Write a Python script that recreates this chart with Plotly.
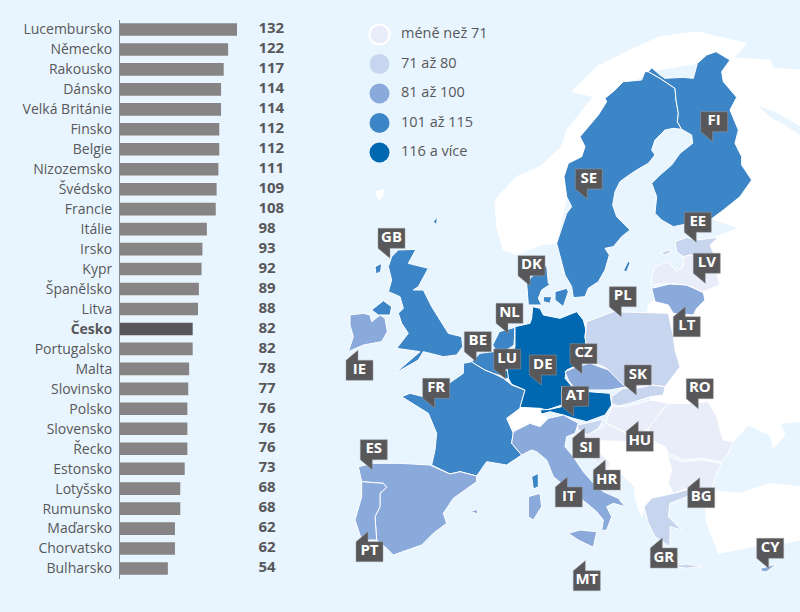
import plotly.graph_objects as go

countries = ["Lucembursko","Německo","Rakousko","Dánsko","Velká Británie","Finsko","Belgie","Nizozemsko","Švédsko","Francie","Itálie","Irsko","Kypr","Španělsko","Litva","Česko","Portugalsko","Malta","Slovinsko","Polsko","Slovensko","Řecko","Estonsko","Lotyšsko","Rumunsko","Maďarsko","Chorvatsko","Bulharsko"]
values = [132,122,117,114,114,112,112,111,109,108,98,93,92,89,88,82,82,78,77,76,76,76,73,68,68,62,62,54]
legend_labels = ["méně než 71","71 až 80","81 až 100","101 až 115","116 a více"]
C0, C1, C2, C3, C4 = "#e8edf9", "#c8d5ef", "#8aaadc", "#3c86c8", "#0067b1"
legend_colors = [C0, C1, C2, C3, C4]
SEA, LAND = "#e8f5ff", "#ffffff"
GREY, DARK, TEXT = "#868484", "#58585a", "#58585a"

# Map outlines, in crop units: three per pixel, measured from the map's top frame
norway = [(465,600),(530,530),(600,500),(665,440),(680,390),(760,290),(695,275),(770,200),(870,150),(960,110),(1070,95),(1220,130),(1130,155),(1072,190),(925,215),(800,300),(680,590),(650,730),(600,735),(530,765),(490,750),(470,680)]
east = [(1220,130),(1180,175),(1290,180),(1300,205),(1380,210),(1380,1265),(1320,1270),(1335,1305),(1300,1345),(1290,1305),(1225,1275),(1180,1325),(1000,1300),(900,1150),(925,915),(1000,850),(1100,720),(1195,685),(1100,650),(1128,155)]
white_sea = [(1260,320),(1310,340),(1380,380),(1380,405),(1330,370),(1290,350)]
turkey = [(1110,1470),(1200,1480),(1290,1450),(1380,1460),(1380,1620),(1330,1630),(1240,1640),(1135,1660),(1100,1570),(1095,1510)]
balkans = [(780,1320),(860,1305),(925,1290),(935,1320),(975,1340),(985,1370),(995,1410),(985,1450),(1000,1480),(935,1495),(912,1520),(905,1550),(885,1495),(885,1460),(830,1410),(800,1410),(780,1360)]
swiss = [(495,1280),(510,1240),(540,1225),(595,1220),(610,1245),(625,1255),(600,1280),(570,1265),(530,1290)]
sweden = [(925,215),(960,235),(1005,265),(1008,300),(1015,340),(1012,365),(1025,388),(1000,385),(975,390),(945,420),(935,450),(945,465),(925,490),(890,510),(860,530),(840,545),(825,575),(818,615),(830,650),(870,690),(845,710),(820,740),(795,745),(808,765),(795,810),(775,845),(745,865),(735,890),(700,893),(695,860),(675,825),(650,730),(660,700),(680,640),(695,620),(680,590),(672,530),(685,490),(725,470),(735,440),(720,410),(750,375),(775,345),(800,305),(795,295),(825,270),(850,245),(905,240),(915,215)]
finland = [(925,215),(935,203),(960,225),(975,235),(1030,232),(1060,235),(1072,190),(1100,165),(1128,155),(1170,180),(1145,215),(1150,245),(1190,292),(1170,330),(1195,390),(1185,430),(1205,470),(1205,495),(1235,540),(1200,590),(1150,630),(1110,660),(1050,670),(1000,680),(965,660),(945,640),(950,590),(935,550),(960,525),(995,495),(1020,460),(1058,430),(1055,405),(1025,388),(1012,365),(1015,340),(1008,300),(1005,265),(960,235)]
estonia = [(1005,725),(1040,712),(1070,720),(1135,712),(1110,735),(1125,770),(1080,770),(1050,765),(1030,770),(1010,755)]
saaremaa = [(960,760),(985,750),(995,755),(975,765)]
gotland = [(850,812),(865,782),(870,790),(860,815)]
latvia = [(935,830),(945,800),(985,785),(1010,815),(1030,800),(1030,770),(1050,765),(1120,770),(1125,800),(1140,855),(1090,875),(1040,855),(990,850),(935,855)]
lithuania = [(935,865),(990,852),(1040,855),(1090,878),(1095,900),(1070,925),(1060,945),(1000,940),(985,915),(945,905)]
jutland = [(560,850),(575,830),(620,795),(625,850),(635,850),(605,870),(595,895),(605,915),(565,915)]
funen = [(610,890),(635,890),(630,910),(610,905)]
zealand = [(645,875),(680,865),(685,875),(670,920),(645,900)]
germany = [(578,920),(600,925),(610,945),(660,955),(710,935),(730,960),(738,990),(735,1010),(745,1080),(680,1110),(675,1135),(700,1165),(665,1215),(620,1230),(600,1225),(540,1222),(555,1170),(515,1153),(505,1135),(500,1110),(525,1040),(525,980),(570,970),(575,955)]
netherlands = [(458,1035),(478,995),(525,982),(522,1035),(515,1040),(500,1050),(470,1055)]
belgium = [(395,1085),(420,1060),(460,1055),(485,1065),(500,1110),(490,1130),(460,1120),(435,1110),(410,1095)]
luxembourg = [(490,1115),(502,1110),(505,1135),(492,1135)]
france = [(370,1090),(395,1085),(410,1095),(435,1110),(460,1120),(490,1135),(515,1155),(555,1170),(540,1225),(500,1255),(520,1300),(515,1330),(545,1365),(500,1395),(440,1385),(410,1428),(360,1415),(330,1422),(275,1395),(285,1350),(290,1300),(265,1240),(225,1215),(185,1190),(210,1180),(250,1190),(290,1170),(320,1155),(370,1120)]
corsica = [(575,1430),(595,1420),(595,1460),(580,1467)]
czechia = [(675,1115),(710,1100),(750,1090),(790,1105),(820,1115),(855,1140),(860,1160),(810,1170),(790,1170),(745,1170),(700,1160),(685,1140)]
austria = [(745,1175),(810,1180),(815,1215),(795,1245),(740,1265),(700,1255),(670,1245),(630,1235),(605,1242),(600,1230),(630,1228),(665,1220),(665,1160)]
italy = [(520,1295),(570,1270),(600,1280),(625,1255),(670,1245),(715,1270),(705,1300),(680,1310),(675,1340),(700,1370),(730,1415),(765,1455),(790,1475),(835,1495),(855,1520),(820,1510),(800,1520),(815,1550),(800,1590),(785,1592),(790,1560),(770,1535),(740,1510),(700,1480),(670,1455),(640,1430),(620,1380),(590,1355),(575,1350),(545,1365),(515,1330)]
sardinia = [(565,1490),(600,1480),(605,1520),(580,1560),(565,1550)]
sicily = [(685,1600),(720,1590),(770,1595),(760,1642),(715,1620)]
slovenia = [(712,1275),(790,1258),(775,1285),(745,1305),(715,1290)]
croatia = [(700,1310),(740,1305),(780,1285),(800,1270),(860,1300),(880,1325),(780,1322),(780,1360),(810,1390),(800,1410),(760,1380),(700,1340)]
hungary = [(800,1260),(815,1220),(860,1220),(930,1200),(985,1210),(950,1250),(935,1280),(900,1300),(860,1300),(800,1270)]
slovakia = [(815,1190),(850,1165),(890,1165),(935,1155),(975,1160),(970,1185),(930,1190),(870,1210),(835,1218),(815,1210)]
poland = [(740,965),(820,935),(985,940),(1000,1010),(1005,1050),(1020,1100),(975,1160),(935,1155),(890,1160),(850,1155),(800,1105),(745,1080),(735,1010),(738,990)]
romania = [(950,1250),(985,1210),(1050,1210),(1105,1205),(1130,1250),(1140,1290),(1150,1320),(1180,1325),(1165,1360),(1145,1385),(1085,1375),(1030,1380),(985,1360),(975,1340),(935,1320),(925,1285)]
bulgaria = [(985,1370),(1030,1385),(1085,1380),(1145,1390),(1130,1420),(1115,1470),(1040,1465),(1000,1480),(985,1450),(995,1410)]
greece = [(912,1520),(935,1495),(1000,1480),(1040,1470),(1080,1475),(1040,1490),(990,1510),(985,1550),(1025,1590),(990,1580),(990,1640),(945,1610),(925,1570)]
crete = [(1010,1695),(1040,1692),(1085,1700),(1040,1705),(1010,1700)]
portugal = [(65,1445),(130,1450),(140,1462),(120,1480),(120,1520),(105,1550),(110,1620),(65,1620),(45,1560),(65,1490)]
spain = [(55,1400),(100,1390),(180,1390),(270,1395),(330,1422),(360,1415),(410,1428),(410,1445),(340,1495),(310,1540),(320,1570),(280,1600),(245,1635),(160,1665),(140,1645),(110,1620),(105,1550),(120,1520),(120,1480),(140,1462),(130,1450),(65,1445)]
mallorca = [(392,1535),(410,1528),(415,1542)]
ireland = [(30,945),(70,940),(90,945),(95,965),(120,945),(135,955),(142,995),(125,1025),(70,1035),(25,1055),(40,1010),(30,975)]
n_ireland = [(95,930),(130,902),(155,920),(150,945),(115,945)]
britain = [(155,770),(175,750),(228,748),(205,790),(265,805),(235,860),(220,870),(250,870),(275,920),(300,960),(325,1000),(365,1010),(368,1040),(350,1065),(310,1070),(250,1055),(235,1080),(165,1120),(205,1085),(240,1055),(170,1045),(205,1000),(185,970),(175,940),(190,925),(180,890),(145,875),(155,840),(145,800)]
hebrides = [(105,800),(125,790),(122,815),(108,822)]
cyprus = [(1262,1705),(1300,1695),(1310,1692),(1280,1715),(1265,1715)]
faroe = [(105,575),(130,568),(128,590),(118,600)]
shetland = [(280,665),(292,650),(290,675)]

land_parts = [(norway,LAND),(east,LAND),(white_sea,SEA),(turkey,LAND),(balkans,LAND),(swiss,LAND),(faroe,LAND),
 (sweden,C3),(finland,C3),(britain,C3),(hebrides,C3),(n_ireland,C3),(shetland,C3),(france,C3),(corsica,C3),(jutland,C3),(funen,C3),(zealand,C3),(gotland,C3),(netherlands,C3),(belgium,C3),
 (germany,C4),(austria,C4),(luxembourg,C4),
 (ireland,C2),(spain,C2),(mallorca,C2),(portugal,C2),(italy,C2),(sardinia,C2),(sicily,C2),(lithuania,C2),(czechia,C2),(cyprus,C2),
 (estonia,C1),(saaremaa,C1),(poland,C1),(slovakia,C1),(slovenia,C1),(greece,C1),(crete,C1),
 (latvia,C0),(hungary,C0),(croatia,C0),(romania,C0),(bulgaria,C0)]

tag_names = ["GB","SE","FI","EE","LV","DK","PL","NL","BE","LU","DE","CZ","SK","AT","RO","FR","ES","CY","IE","LT","SI","HU","HR","IT","BG","PT","GR","MT"]
tag_left = [378,575.3,700.7,684.3,693.3,518,609.3,496,464.3,493.7,529.3,570,624.3,561.7,686.3,422.7,360.3,756.7,346,673.3,572.7,626.3,593.3,555.3,687.7,356,650.3,573.3]
tag_top = [228.3,169,111.7,212.3,253.3,255.7,286.7,303.3,331.7,349,355,343.7,365,386.3,378.7,378.3,439.7,538.3,360.3,316.7,438,431.3,470,487,487.7,541.7,548,570.7]
tag_dir = ["d"]*18 + ["u"]*10

legend_y = [34.5,64,93.5,123,152.5]

fig = go.Figure()
M = dict(xaxis="x2", yaxis="y2", hoverinfo="skip", showlegend=False)

def px(pts):
    return [340 + p[0]/3 for p in pts], [p[1]/3 for p in pts]

for pts, col in land_parts:
    xs, ys = px(pts)
    fig.add_trace(go.Scatter(x=xs+xs[:1], y=ys+ys[:1], mode="lines", fill="toself", fillcolor=col,
                             line=dict(color=LAND if col != SEA else SEA, width=1), **M))

for name, l, t, d in zip(tag_names, tag_left, tag_top, tag_dir):
    w, h = 27, 20
    if d == "d":
        xs = [l, l+w, l+w, l+12, l+12, l, l]
        ys = [t, t, t+h, t+h, t+h+10, t+h, t]
    else:
        xs = [l, l+12, l+12, l+w, l+w, l, l]
        ys = [t, t-10, t, t, t+h, t+h, t]
    fig.add_trace(go.Scatter(x=xs, y=ys, mode="lines", fill="toself", fillcolor=DARK,
                             line=dict(color="#9a9a9c", width=0.5), **M))
    fig.add_trace(go.Scatter(x=[l+w/2], y=[t+h/2], mode="text", text=[f"<b>{name}</b>"],
                             textposition="middle center",
                             textfont=dict(family="Open Sans", size=15, color="white"), **M))

fig.add_trace(go.Scatter(x=[379.5]*5, y=legend_y, mode="markers",
    marker=dict(size=20, color=legend_colors, line=dict(color=["white"]+[SEA]*4, width=[2,0,0,0,0])), **M))
fig.add_trace(go.Scatter(x=[401]*5, y=legend_y, mode="text", text=legend_labels, textposition="middle right",
    textfont=dict(family="Open Sans", size=14.5, color=TEXT), **M))

bar_colors = [DARK if c == "Česko" else GREY for c in countries]
fig.add_trace(go.Bar(y=countries, x=values, orientation="h", marker=dict(color=bar_colors, line_width=0),
                     xaxis="x", yaxis="y", hoverinfo="skip", showlegend=False))
fig.add_trace(go.Scatter(x=[156.2]*len(values), y=countries, mode="text",
    text=[f"<b>{v}</b>" for v in values], textposition="middle right",
    textfont=dict(family="Open Sans", size=15, color=TEXT), xaxis="x", yaxis="y", hoverinfo="skip", showlegend=False))

fig.update_layout(
    width=800, height=612, margin=dict(l=0, r=0, t=0, b=0),
    paper_bgcolor=SEA, plot_bgcolor="rgba(0,0,0,0)", bargap=0.37,
    font=dict(family="Open Sans", color=TEXT, size=14),
    xaxis=dict(domain=[120/800, 300/800], range=[0, 180*132/117], visible=False),
    yaxis=dict(domain=[1-578.5/612, 1-19.5/612], type="category", categoryorder="array", categoryarray=countries,
               range=[27.5,-0.5], tickmode="array", tickvals=countries,
               ticktext=[f"<b>{c}</b>" if c == "Česko" else c for c in countries],
               showline=True, linecolor="#8a8a8a", linewidth=1, ticks="outside", ticklen=4, tickcolor="rgba(0,0,0,0)",
               showgrid=False, zeroline=False, tickfont=dict(family="Open Sans", size=14, color=TEXT)),
    xaxis2=dict(domain=[0,1], range=[0,800], visible=False, anchor="y2"),
    yaxis2=dict(domain=[0,1], range=[612,0], visible=False, anchor="x2"),
)
fig.write_html("out.html", config=dict(displayModeBar=False),
               post_script="document.documentElement.style.overflow='hidden';document.body.style.margin='0';document.body.style.overflow='hidden';")
